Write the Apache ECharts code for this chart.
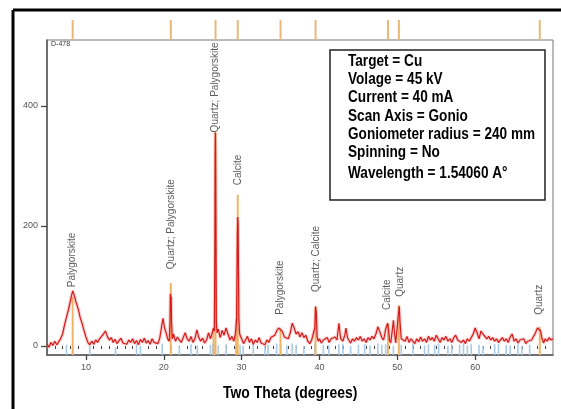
<!DOCTYPE html>
<html><head><meta charset="utf-8">
<script src="https://cdn.jsdelivr.net/npm/echarts@6/dist/echarts.min.js"></script>
<style>html,body{margin:0;padding:0;background:#fff}#c{width:561px;height:409px}</style>
</head><body><div id="c"></div>
<script>
// ---- data ----
const twoTheta = [5.0,5.25,5.5,5.75,6.0,6.25,6.5,6.75,7.0,7.25,7.5,7.75,8.0,8.15,8.3,8.45,8.6,8.75,9.0,9.25,9.5,9.75,10.0,10.25,10.5,10.75,11.0,11.25,11.5,11.75,12.0,12.25,12.5,12.75,13.0,13.25,13.5,13.75,14.0,14.25,14.5,14.75,15.0,15.25,15.5,15.75,16.0,16.25,16.5,16.75,17.0,17.25,17.5,17.75,18.0,18.25,18.5,18.75,19.0,19.25,19.5,19.75,19.9,20.1,20.3,20.5,20.7,20.8,20.85,20.9,20.95,21.0,21.1,21.25,21.5,21.75,22.0,22.25,22.5,22.75,23.0,23.25,23.5,23.75,24.0,24.25,24.5,24.75,25.0,25.25,25.5,25.75,26.0,26.25,26.4,26.5,26.56,26.6,26.63,26.66,26.7,26.75,26.85,27.0,27.25,27.5,27.75,28.0,28.25,28.5,28.75,29.0,29.2,29.35,29.45,29.5,29.55,29.6,29.65,29.75,30.0,30.25,30.5,30.75,31.0,31.25,31.5,31.75,32.0,32.25,32.5,32.75,33.0,33.25,33.5,33.75,34.0,34.25,34.5,34.75,35.0,35.25,35.5,35.75,36.0,36.25,36.5,36.75,37.0,37.25,37.5,37.75,38.0,38.25,38.5,38.75,39.0,39.25,39.4,39.5,39.55,39.6,39.7,39.85,40.0,40.25,40.5,40.75,41.0,41.25,41.5,41.75,42.0,42.25,42.5,42.65,42.75,43.0,43.25,43.4,43.6,43.75,44.0,44.25,44.5,44.75,45.0,45.25,45.5,45.75,46.0,46.25,46.5,46.75,47.0,47.25,47.5,47.75,48.0,48.25,48.5,48.75,48.9,49.0,49.15,49.3,49.5,49.65,49.8,50.0,50.15,50.25,50.35,50.5,50.75,51.0,51.25,51.5,51.75,52.0,52.25,52.5,52.75,53.0,53.25,53.5,53.75,54.0,54.25,54.5,54.75,55.0,55.25,55.5,55.75,56.0,56.25,56.5,56.75,57.0,57.25,57.5,57.75,58.0,58.25,58.5,58.75,59.0,59.25,59.5,59.75,60.0,60.25,60.5,60.75,61.0,61.25,61.5,61.75,62.0,62.25,62.5,62.75,63.0,63.25,63.5,63.75,64.0,64.25,64.5,64.75,65.0,65.25,65.5,65.75,66.0,66.25,66.5,66.75,67.0,67.25,67.5,67.75,68.0,68.2,68.4,68.6,68.8,69.0,69.25,69.5,69.75,70.0];
const counts = [3,-2,6,1,8,2,5,12,20,35,48,60,75,84,92,86,80,72,62,48,38,26,15,6,2,8,3,10,6,12,14,20,25,16,10,14,6,11,4,9,13,5,8,3,10,6,12,4,9,2,11,6,13,5,9,3,12,6,8,4,14,35,46,30,22,12,8,40,87,75,82,40,12,20,8,15,10,6,14,22,12,8,16,6,12,27,14,8,13,5,10,22,12,15,30,25,150,322,356,320,200,40,22,28,14,26,18,30,20,10,16,8,20,42,185,215,200,120,45,20,12,4,10,16,6,12,3,10,6,14,5,8,2,10,6,14,12,18,25,30,32,24,15,18,12,22,38,30,20,24,15,22,14,18,8,4,10,8,30,66,60,55,15,8,12,5,10,8,14,6,12,9,15,10,38,20,12,8,18,30,14,10,5,12,8,14,10,16,8,12,6,14,10,16,12,20,32,24,14,10,28,38,25,10,5,20,43,20,5,8,55,66,40,12,14,8,16,6,12,10,4,12,7,15,8,12,6,16,10,14,8,18,12,6,14,10,16,8,12,6,14,18,10,13,6,10,4,12,8,14,20,30,22,12,25,20,18,12,16,10,14,8,12,6,10,14,8,12,6,15,20,8,12,5,10,7,12,4,8,6,10,12,22,30,33,25,12,5,12,8,14,10,12];

const peakPos    = [8.3, 20.9, 26.65, 29.5, 35.0, 39.5, 48.8, 50.2, 68.3];
const peakHeight = [82, 105, 356, 252, 30, 65, 38, 68, 32];
const peakNames  = ['Palygorskite','Quartz; Palygorskite','Quartz; Palygorskite','Calcite','Palygorskite','Quartz; Calcite','Calcite','Quartz','Quartz'];
const labelPos   = [8.3, 20.95, 26.65, 29.6, 34.9, 39.6, 48.7, 50.35, 68.2];
const labelBase  = [98, 128, 356, 268, 52, 90, 60, 82, 52];

const minorPos    = [26.4, 29.3];
const minorHeight = [30, 45];

const refPos = [7.5,8.3,10.5,13.8,16.5,17.0,19.8,20.9,22.0,23.5,24.3,26.0,26.3,26.6,27.0,28.0,29.4,29.8,30.2,31.5,33.0,33.4,34.5,35.0,35.8,36.5,37.0,38.0,39.4,40.5,41.2,42.5,43.0,44.0,45.0,45.8,46.5,47.5,48.0,48.5,49.5,50.5,52.0,53.5,54.0,54.8,55.3,56.5,57.0,58.0,58.5,59.0,59.5,60.5,61.0,62.5,63.0,64.0,64.5,65.5,66.0,67.0];
const refTop = [2,4,0,-2,3,0,4,2,-1,3,1,2,4,5,1,3,5,2,0,3,-1,2,4,3,1,4,2,0,4,2,1,3,4,0,2,3,1,4,2,3,0,2,4,1,3,2,4,0,3,2,4,1,3,2,0,3,4,2,1,3,0,2];

const xTicks = [10,20,30,40,50,60];
const xMinorTicks = [6,7,8,9,11,12,13,14,15,16,17,18,19,21,22,23,24,25,26,27,28,29,31,32,33,34,35,36,37,38,39,41,42,43,44,45,46,47,48,49,51,52,53,54,55,56,57,58,59,61,62,63,64,65,66,67,68,69];
const yTicks = [0,200,400];

const infoLines = ['Target = Cu','Volage = 45 kV','Current = 40 mA','Scan Axis = Gonio','Goniometer radius = 240 mm','Spinning = No','Wavelength = 1.54060 A\u00B0'];

// ---- chart ----
const chart = echarts.init(document.getElementById('c'), null, {renderer:'canvas'});
const lineData = twoTheta.map((t,i)=>[t,counts[i]]);
const stickData = peakPos.map((p,i)=>[p,-15,peakHeight[i]]).concat(minorPos.map((p,i)=>[p,-15,minorHeight[i]]));
const refData = refPos.map((p,i)=>[p,-15,refTop[i]]);
const topData = peakPos.map(p=>[p,0,1]);
const lblData = peakNames.map((n,i)=>({name:n, value:[labelPos[i], labelBase[i]]}));

function stick(color,w){
  return function(params, api){
    const a = api.coord([api.value(0), api.value(1)]);
    const b = api.coord([api.value(0), api.value(2)]);
    return {type:'line', shape:{x1:a[0],y1:a[1],x2:b[0],y2:b[1]}, style:{stroke:color, lineWidth:w}};
  };
}

const boldFont = "bold 16px 'Liberation Sans', Arial, sans-serif";
const lineY = [62,80,98,117,135,153,174];
const gText = infoLines.map((s,i)=>({
  type:'text', x:348, y:lineY[i], z:12, scaleX:0.85,
  style:{text:s, font:boldFont, fill:'#000', verticalAlign:'middle', align:'left'}
}));

chart.setOption({
  backgroundColor:'#fff',
  animation:false,
  grid:[
    {left:47, right:8, top:40, bottom:54, show:true, borderColor:'#777', borderWidth:1},
    {left:47, right:8, top:20, height:20}
  ],
  xAxis:[
    {gridIndex:0, type:'value', min:5, max:70, position:'bottom',
     axisLine:{show:true, onZero:false, lineStyle:{color:'#555', width:1.5}},
     axisTick:{show:true, length:5, customValues:xTicks, lineStyle:{color:'#444', width:1.3}},
     axisLabel:{show:true, customValues:xTicks, color:'#555', fontSize:9, margin:8, fontFamily:'Arial, sans-serif'},
     splitLine:{show:false}},
    {gridIndex:0, type:'value', min:5, max:70, position:'bottom',
     axisLine:{show:false},
     axisTick:{show:true, length:3, customValues:xMinorTicks, lineStyle:{color:'#444', width:1}},
     axisLabel:{show:false}, splitLine:{show:false}},
    {gridIndex:1, type:'value', min:5, max:70, show:false}
  ],
  yAxis:[
    {gridIndex:0, type:'value', min:-15, max:510,
     axisLine:{show:true, onZero:false, lineStyle:{color:'#555', width:1.5}},
     axisTick:{show:true, length:6, customValues:yTicks, lineStyle:{color:'#444', width:1.3}},
     axisLabel:{show:true, customValues:yTicks, color:'#555', fontSize:9, margin:9, fontFamily:'Arial, sans-serif'},
     splitLine:{show:false}},
    {gridIndex:1, type:'value', min:0, max:1, show:false}
  ],
  series:[
    {type:'custom', xAxisIndex:0, yAxisIndex:0, renderItem:stick('#a9cbe8',1.6), data:refData, z:1, silent:true},
    {type:'custom', xAxisIndex:0, yAxisIndex:0, renderItem:stick('#f0b466',2), data:stickData, z:2, silent:true},
    {type:'line', xAxisIndex:0, yAxisIndex:0, data:lineData, showSymbol:false, symbol:'none',
     lineStyle:{color:'rgba(240,120,120,0.35)', width:3.5}, z:3, silent:true},
    {type:'line', xAxisIndex:0, yAxisIndex:0, data:lineData, showSymbol:false, symbol:'none',
     lineStyle:{color:'#d41a1a', width:1.2}, z:4, silent:true},
    {type:'scatter', xAxisIndex:0, yAxisIndex:0, data:lblData, symbolSize:0, z:5, silent:true,
     label:{show:true, formatter:'{b}', rotate:90, position:'top', distance:0, align:'left', verticalAlign:'middle',
            color:'#333', fontSize:10, fontFamily:'Arial, sans-serif'}},
    {type:'custom', xAxisIndex:2, yAxisIndex:1, renderItem:stick('#e8b878',2), data:topData, silent:true}
  ],
  graphic:[
    {type:'line', shape:{x1:13,y1:10,x2:561,y2:10}, style:{stroke:'#000', lineWidth:3}},
    {type:'line', shape:{x1:13,y1:10,x2:13,y2:409}, style:{stroke:'#000', lineWidth:3}},
    {type:'rect', shape:{x:330,y:50,width:215,height:150}, style:{fill:'#fff', stroke:'#222', lineWidth:1.5}, z:10}
  ].concat(gText).concat([
    {type:'text', x:223, y:394, z:11, scaleX:0.87, style:{text:'Two Theta (degrees)', font:boldFont, fill:'#000', verticalAlign:'middle', align:'left'}},
    {type:'text', x:51, y:44, z:11, style:{text:'D-478', font:'7px Arial, sans-serif', fill:'#333', verticalAlign:'middle', align:'left'}}
  ])
});
</script></body></html>
